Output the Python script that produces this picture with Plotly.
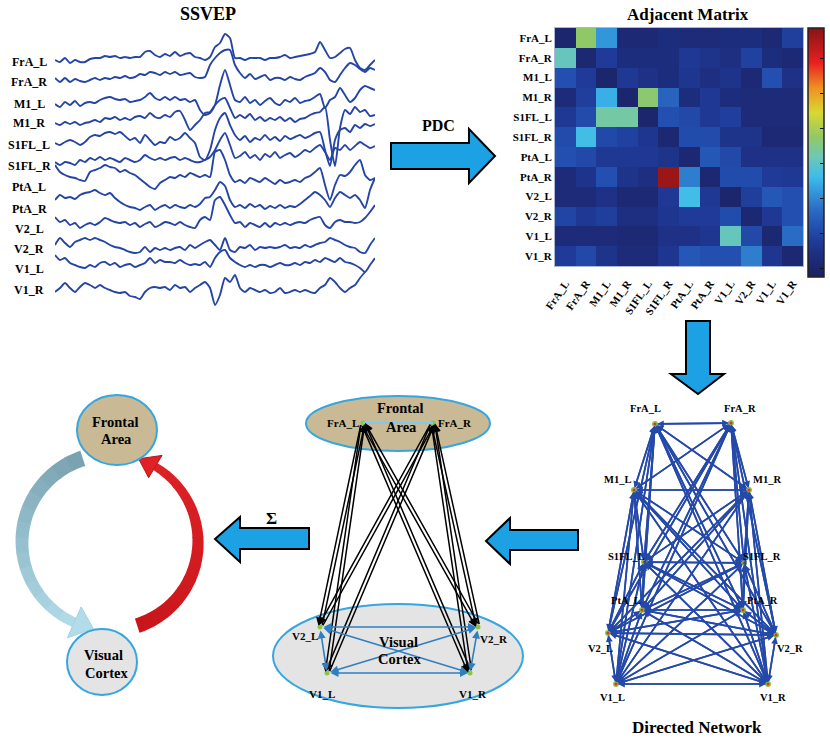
import numpy as np
import plotly.graph_objects as go

# ---------------------------------------------------------------- data
channels = ["FrA_L", "FrA_R", "M1_L", "M1_R", "S1FL_L", "S1FL_R",
            "PtA_L", "PtA_R", "V2_L", "V2_R", "V1_L", "V1_R"]
matrix_cols = ["FrA_L", "FrA_R", "M1_L", "M1_R", "S1FL_L", "S1FL_R",
               "PtA_L", "PtA_R", "V1_L", "V2_R", "V1_L", "V1_R"]

# SSVEP epochs, one list per channel (amplitude, 65 samples)
eeg_fra_l = [0, -2, 2, -3, 0, -2, -2, 1, 2, 2, 4, 3, 4, 2, 3, 2, 3, 3, 8, 9,
             5, 3, 6, 4, 8, 4, 6, 7, 3, 2, 0, 3, 13, 17, 26, 22, 2, 2, 0, 2,
             2, 2, 0, 2, 2, 3, 5, 2, 3, 4, 5, 6, 8, 18, 10, 2, 3, 7, 11, 12,
             0, -8, -10, -5, 0]
eeg_fra_r = [0, -4, 0, -4, -1, -3, -4, -2, 0, -2, 0, -1, 1, 0, 2, 0, 1, 4, 3, 6,
             5, 3, 6, 4, 6, 3, 4, 5, 1, 0, 1, 13, 20, 25, 28, 28, 13, 5, 0, 4,
             -1, 1, 3, -2, 0, 0, -2, 1, -1, -2, 1, 3, 5, 10, 6, -2, -4, 3, 10, 15,
             13, 9, 6, 10, 8]
eeg_m1_l = [0, -3, 2, -1, 3, -2, 1, 2, 1, 4, 6, 7, 5, 4, 5, 2, 3, 4, 7, 11,
            6, 4, 7, 4, 7, 4, 5, 2, 4, -6, -11, -9, -1, 19, 34, 19, 4, 2, 7, 1,
            4, -1, 3, 6, 1, -1, 4, 2, 6, 1, 3, 4, 7, 10, -4, 4, 7, 16, 9, 2,
            6, 14, 18, 16, 14]
eeg_m1_r = [0, -2, 1, -1, 1, -2, 0, 1, 3, 1, 5, 4, 6, 3, 5, 3, 6, 7, 5, 10,
            6, 5, 8, 6, 11, 12, 3, -7, -2, 3, 10, 11, 18, 23, 25, 15, 5, 8, 5, 9,
            3, 6, 2, 5, 3, 6, 2, 5, 1, 4, 5, 8, 10, 11, 16, -17, -43, -5, 13, 9,
            16, 11, 13, 7, 8]
eeg_s1fl_l = [0, -2, 1, 3, 1, -2, 1, 6, 8, 7, 10, 11, 9, 11, 7, 3, 5, 0, 8, 3,
              -2, 1, 0, 6, 3, 5, 10, 5, 0, -14, -17, -7, 13, 25, 30, 18, 8, 3, 7, 1,
              5, 3, 8, 3, 6, 2, 7, 4, 6, 8, 5, 7, 10, 11, -7, -23, 3, 13, 15, 11,
              18, 15, 19, 17, 19]
eeg_s1fl_r = [0, -3, 0, -1, -3, 2, 0, 4, 2, 5, 2, 4, 2, 0, 4, 2, 0, 2, 7, 4,
              2, 4, 2, 4, 5, 2, 4, 2, 0, 0, 2, 5, 12, 22, 29, 17, 4, 6, 10, 4,
              7, 2, 8, 5, 10, 4, 7, 9, 5, 8, 12, 10, 14, 17, 10, 2, 14, 12, 17, 12,
              16, 20, 17, 14, 16]
eeg_pta_l = [17, 10, 7, 5, 4, 2, 1, 10, 12, 14, 17, 15, 14, 10, 12, 9, 7, 3, -1, -5,
             -7, -1, 2, 5, 4, 7, 5, 9, 7, 5, 7, 5, 30, 32, 22, 7, 0, 2, -1, 4,
             2, 0, 4, 1, -2, 2, -1, 0, 2, 0, 4, 6, 10, 14, -3, -18, -3, 7, 6, 10,
             17, 22, 7, 2, 4]
eeg_pta_r = [0, 5, 2, 3, 1, 5, 7, 8, 10, 7, 5, 7, 2, -2, -5, -7, -8, -10, -7, -5,
             -10, -7, -5, -8, -5, -7, -8, -5, -7, -4, 2, 3, 10, 18, 14, 0, -7, -5, -8, -4,
             -7, -5, -9, -6, -8, -5, -8, -6, -7, -4, 0, 4, 8, 5, 0, -7, 2, 8, 5, 2,
             5, 0, -8, 10, 22]
eeg_v2_l = [3, -2, 0, -5, -3, -8, -5, -3, -5, -2, 2, 0, -2, -3, -2, -5, -3, -7, -4, -2,
            -7, -5, -2, -3, -5, -2, -5, -7, -8, 0, 3, 0, 20, 23, 15, 5, -3, -2, -7, -3,
            -5, -7, -3, -7, -3, -5, -3, -5, -3, -2, -3, 0, 2, 3, -5, -8, -2, 0, -2, -2,
            -3, -2, 2, 8, 15]
eeg_v2_r = [-2, 5, 0, -4, 1, 3, 5, 3, 5, 3, 1, -2, -4, -5, -7, -9, -10, -9, -4, -9,
            -5, -7, -5, -7, -5, -4, -7, -2, -5, -2, 1, 3, -2, -7, 5, -7, -9, -4, -5, -2,
            -7, -4, -5, -4, -5, -4, -2, -5, -4, -5, -2, -4, -2, 0, 1, 5, 3, 1, -2, -4,
            -5, -9, -10, -2, 5]
eeg_v1_l = [10, 5, 7, 2, 0, -2, -3, 0, -2, 2, 3, 0, 2, -2, 0, 1, -2, 0, 2, 7,
            2, 5, 3, 3, 2, 5, 2, 0, 1, 0, 3, -2, 7, 13, 15, 7, 3, 0, -2, 0,
            -2, 0, 0, -2, 0, 2, 0, 0, 2, 0, 3, 2, 5, 3, 7, 5, 3, 7, 3, 2,
            0, -3, -7, 0, 7]
eeg_v1_r = [-2, 2, 7, 2, -2, 3, 7, 5, 2, 5, 2, 0, -2, -3, -2, -6, -7, -9, -2, 2,
            3, 2, 3, 0, 5, 2, 3, -2, 2, 5, 8, 2, -15, -5, 12, 8, 15, 2, -2, 2,
            0, -2, 0, -3, -2, 2, -3, -2, 0, -2, 0, -2, -3, 2, 5, 12, 8, 2, -2, 2,
            5, 12, 18]

eeg_signals = [eeg_fra_l, eeg_fra_r, eeg_m1_l, eeg_m1_r, eeg_s1fl_l, eeg_s1fl_r,
               eeg_pta_l, eeg_pta_r, eeg_v2_l, eeg_v2_r, eeg_v1_l, eeg_v1_r]

# PDC adjacency matrix (rows: sink, columns: source), normalised strength
adj_matrix = [
    [0.04, 0.56, 0.34, 0.06, 0.06, 0.08, 0.07, 0.07, 0.08, 0.08, 0.06, 0.15],
    [0.47, 0.05, 0.14, 0.08, 0.08, 0.08, 0.13, 0.11, 0.09, 0.16, 0.08, 0.06],
    [0.20, 0.14, 0.04, 0.13, 0.10, 0.08, 0.12, 0.09, 0.11, 0.06, 0.20, 0.10],
    [0.07, 0.15, 0.38, 0.04, 0.55, 0.25, 0.08, 0.13, 0.08, 0.07, 0.07, 0.07],
    [0.13, 0.19, 0.50, 0.50, 0.04, 0.20, 0.18, 0.13, 0.15, 0.07, 0.07, 0.07],
    [0.19, 0.41, 0.18, 0.16, 0.12, 0.05, 0.19, 0.19, 0.11, 0.11, 0.06, 0.06],
    [0.20, 0.18, 0.13, 0.13, 0.13, 0.11, 0.05, 0.22, 0.18, 0.10, 0.10, 0.10],
    [0.07, 0.11, 0.20, 0.11, 0.09, 0.97, 0.30, 0.05, 0.19, 0.19, 0.14, 0.13],
    [0.07, 0.07, 0.10, 0.06, 0.06, 0.13, 0.41, 0.13, 0.04, 0.15, 0.22, 0.20],
    [0.17, 0.13, 0.15, 0.09, 0.09, 0.12, 0.14, 0.14, 0.19, 0.05, 0.13, 0.20],
    [0.07, 0.07, 0.07, 0.06, 0.06, 0.10, 0.10, 0.12, 0.47, 0.18, 0.05, 0.27],
    [0.14, 0.18, 0.11, 0.07, 0.07, 0.12, 0.22, 0.20, 0.20, 0.30, 0.12, 0.05],
]

# regions of the summarised network
frontal_nodes = ["FrA_L", "FrA_R"]
visual_nodes = ["V2_L", "V2_R", "V1_L", "V1_R"]
visual_links = [("V2_L", "V2_R"), ("V1_L", "V1_R"), ("V2_L", "V1_R"),
                ("V1_L", "V2_R"), ("V2_L", "V1_L"), ("V2_R", "V1_R")]

# ---------------------------------------------------------------- layout constants
W, H = 830, 738
SERIF = "Liberation Serif"
EEG_BLUE = "#2545a5"
NET_BLUE = "#2449a8"
ARROW_FILL = "#1ca2e4"
TAN = "#c9b995"
GREYFILL = "#e4e4e4"
RIM = "#35a6df"

row_y = [60, 78, 104, 123, 143, 162, 182, 200, 220, 243, 265, 290]
label_y = [62, 82, 104, 123, 145, 166, 187, 209, 229, 249, 269, 290]

dn_pos = {"FrA_L": (655, 424), "FrA_R": (731, 423), "M1_L": (634, 490),
          "M1_R": (749, 490), "S1FL_L": (644, 562), "S1FL_R": (744, 563),
          "PtA_L": (642, 610), "PtA_R": (743, 610), "V2_L": (608, 633),
          "V2_R": (776, 635), "V1_L": (616, 684), "V1_R": (768, 684)}
dn_lab = {"FrA_L": (645, 408), "FrA_R": (740, 408), "M1_L": (617, 479),
          "M1_R": (767, 479), "S1FL_L": (626, 556), "S1FL_R": (762, 556),
          "PtA_L": (626, 600), "PtA_R": (762, 600), "V2_L": (600, 648),
          "V2_R": (790, 648), "V1_L": (612, 697), "V1_R": (773, 697)}
mid_pos = {"FrA_L": (363, 423), "FrA_R": (433, 423), "V2_L": (320, 627),
           "V2_R": (478, 627), "V1_L": (327, 673), "V1_R": (470, 673)}
mid_lab = {"FrA_L": (343, 423), "FrA_R": (455, 423), "V2_L": (305, 636),
           "V2_R": (494, 639), "V1_L": (322, 694), "V1_R": (473, 694)}

fig = go.Figure()

# ---------------------------------------------------------------- SSVEP traces
t = np.arange(len(eeg_fra_l))
for i, sig in enumerate(eeg_signals):
    fig.add_trace(go.Scatter(
        x=t, y=row_y[i] - np.asarray(sig, dtype=float), xaxis="x2", yaxis="y",
        mode="lines", line=dict(color=EEG_BLUE, width=1.9, shape="spline", smoothing=0.6),
        hoverinfo="skip", showlegend=False))

# ---------------------------------------------------------------- adjacency heatmap
jet_soft = [[0.00, "#1b1f5e"], [0.07, "#1d2b78"], [0.14, "#1f3a98"], [0.20, "#2350b0"],
            [0.27, "#2a6cc4"], [0.33, "#3290d8"], [0.40, "#3cbbeb"], [0.48, "#6cc8b8"],
            [0.56, "#90c868"], [0.66, "#d8d830"], [0.76, "#f09020"], [0.86, "#e82020"],
            [1.00, "#861414"]]
fig.add_trace(go.Heatmap(
    z=adj_matrix, x=list(range(12)), y=list(range(12)), xaxis="x3", yaxis="y3",
    colorscale=jet_soft, zmin=0, zmax=1, hoverinfo="skip",
    colorbar=dict(x=808 / W, xanchor="left", xref="paper", y=1 - 28 / H, yanchor="top",
                  len=249 / H, lenmode="fraction", thickness=16, thicknessmode="pixels",
                  outlinewidth=1.5, outlinecolor="#222", ticks="inside", ticklen=4,
                  tickcolor="#111", showticklabels=False, xpad=0, ypad=0,
                  tickvals=[0.036, 0.176, 0.317, 0.457, 0.598, 0.738, 0.879])))

# ---------------------------------------------------------------- node markers
fig.add_trace(go.Scatter(
    x=[dn_pos[c][0] for c in channels], y=[dn_pos[c][1] for c in channels],
    mode="markers", marker=dict(size=6, color="#8cc63f"), hoverinfo="skip", showlegend=False))
fig.add_trace(go.Scatter(
    x=[dn_pos[c][0] for c in channels], y=[dn_pos[c][1] for c in channels],
    mode="markers", marker=dict(size=3, color="#e0302a"), hoverinfo="skip", showlegend=False))
fig.add_trace(go.Scatter(
    x=[p[0] for p in mid_pos.values()], y=[p[1] for p in mid_pos.values()],
    mode="markers", marker=dict(size=5, color="#8cc63f"), hoverinfo="skip", showlegend=False))

# ---------------------------------------------------------------- shapes
shapes = []


def poly(pts):
    return "M " + " L ".join(f"{x:.2f},{y:.2f}" for x, y in pts) + " Z"


def block_arrow(pts):
    shapes.append(dict(type="path", xref="x", yref="y", path=poly(pts),
                       fillcolor=ARROW_FILL, line=dict(color="black", width=2)))


block_arrow([(391, 143), (469, 143), (469, 129), (495, 156), (469, 183), (469, 169), (391, 169)])
block_arrow([(686, 321), (710, 321), (710, 374), (724, 374), (698, 394), (671, 374), (686, 374)])
block_arrow([(309, 528), (240, 528), (240, 517), (215, 539), (240, 562), (240, 549), (309, 549)])
block_arrow([(578, 530), (510, 530), (510, 518), (486, 541), (510, 564), (510, 550), (578, 550)])

# curved loop arrows between the two regions
CX, CY, RM = 110, 542, 88


def arc_pt(theta_deg, r):
    th = np.radians(theta_deg)
    return CX + r * np.cos(th), CY - r * np.sin(th)


def mix(c0, c1, f):
    a = [int(c0[i:i + 2], 16) for i in (1, 3, 5)]
    b = [int(c1[i:i + 2], 16) for i in (1, 3, 5)]
    return "#" + "".join(f"{int(round(a[k] + (b[k] - a[k]) * f)):02x}" for k in range(3))


def loop_arrow(th0, th1, w0, w1, c0, c1, head_w, head_len, edge):
    nseg = 14
    ths = np.linspace(th0, th1, nseg + 1)
    for k in range(nseg):
        a0, a1 = ths[k], ths[k + 1] + (0.6 if th1 > th0 else -0.6) * (k < nseg - 1)
        sub = np.linspace(a0, a1, 8)
        ws = w0 + (w1 - w0) * (sub - th0) / (th1 - th0)
        outer = [arc_pt(a, RM + w / 2) for a, w in zip(sub, ws)]
        inner = [arc_pt(a, RM - w / 2) for a, w in zip(sub[::-1], ws[::-1])]
        col = mix(c0, c1, (k + 0.5) / nseg)
        shapes.append(dict(type="path", xref="x", yref="y", path=poly(outer + inner),
                           fillcolor=col, line=dict(width=0)))
    direction = 1 if th1 > th0 else -1
    tip = arc_pt(th1 + direction * head_len, RM)
    shapes.append(dict(type="path", xref="x", yref="y",
                       path=poly([arc_pt(th1, RM + head_w), tip, arc_pt(th1, RM - head_w)]),
                       fillcolor=c1, line=dict(color=edge, width=1)))


loop_arrow(108, 246, 16, 10, "#78a0ae", "#b2dcea", 17, 13, "#a6d3e3")
loop_arrow(-72, 59, 15, 8, "#c8161b", "#de2226", 13, 12, "#b81418")

# region ellipses
shapes += [
    dict(type="circle", xref="x", yref="y", x0=77, x1=157, y0=395, y1=465,
         fillcolor=TAN, line=dict(color=RIM, width=2)),
    dict(type="circle", xref="x", yref="y", x0=67, x1=137, y0=629, y1=695,
         fillcolor=GREYFILL, line=dict(color=RIM, width=2)),
    dict(type="circle", xref="x", yref="y", x0=306, x1=490, y0=396, y1=451,
         fillcolor=TAN, line=dict(color=RIM, width=2), layer="below"),
    dict(type="circle", xref="x", yref="y", x0=273, x1=523, y0=604, y1=708,
         fillcolor=GREYFILL, line=dict(color=RIM, width=2), layer="below"),
]
fa, fb = mid_pos["FrA_L"], mid_pos["FrA_R"]
shapes.append(dict(type="line", xref="x", yref="y", x0=fa[0], y0=fa[1], x1=fb[0], y1=fb[1],
                   line=dict(color="#7ccaee", width=2)))

# ---------------------------------------------------------------- annotations
ann = []


def label(x, y, text, size, bold=True, color="black"):
    ann.append(dict(x=x, y=y, xref="x", yref="y", text=f"<b>{text}</b>" if bold else text,
                    showarrow=False, font=dict(family=SERIF, size=size, color=color),
                    xanchor="center", yanchor="middle"))


def link(src, dst, color, width, size=1.0, both=False, standoff=2):
    ann.append(dict(x=dst[0], y=dst[1], ax=src[0], ay=src[1], xref="x", yref="y",
                    axref="x", ayref="y", text="", showarrow=True, arrowhead=2,
                    arrowsize=size, arrowwidth=width, arrowcolor=color, standoff=standoff,
                    startstandoff=standoff, arrowside="end+start" if both else "end"))


# titles
label(208, 14, "SSVEP", 18)
label(688, 14, "Adjacent Matrix", 17)
label(697, 727, "Directed Network", 17)
label(438, 125, "PDC", 16)
label(271, 518, "Σ", 17)

# channel names beside the SSVEP traces
for name, y in zip(channels, label_y):
    label(29, y, name, 12)

# directed network: every ordered pair of channels
for i, a in enumerate(channels):
    for j, b in enumerate(channels):
        if i != j:
            link(dn_pos[a], dn_pos[b], NET_BLUE, 1.7, size=0.8, standoff=2)
for c in channels:
    label(dn_lab[c][0], dn_lab[c][1], c, 10.5)

# summarised network: frontal <-> visual, drawn as two offset directed links
for f in frontal_nodes:
    for v in visual_nodes:
        p, q = np.array(mid_pos[f], float), np.array(mid_pos[v], float)
        d = q - p
        n = np.array([-d[1], d[0]]) / np.hypot(*d) * 1.8
        link(tuple(p + n), tuple(q + n), "black", 1.5, size=1.1, standoff=1)
        link(tuple(q - n), tuple(p - n), "black", 1.5, size=1.1, standoff=1)
for a, b in visual_links:
    link(mid_pos[a], mid_pos[b], "#2f7fc1", 1.6, size=1.0, both=True, standoff=2)
for c, (x, y) in mid_lab.items():
    label(x, y, c, 11)
label(400, 408, "Frontal", 14.5)
label(401, 427, "Area", 14.5)
label(398, 642, "Visual", 14.5)
label(399, 659, "Cortex", 14.5)

# loop diagram
label(115, 422, "Frontal", 14.5)
label(116, 439, "Area", 14.5)
label(103, 655, "Visual", 14.5)
label(106, 673, "Cortex", 14.5)

# ---------------------------------------------------------------- axes
tick_font = dict(family=SERIF, size=11, color="black")
fig.update_layout(
    template="none", width=W, height=H, margin=dict(l=0, r=0, t=0, b=0, pad=0),
    paper_bgcolor="white", plot_bgcolor="rgba(0,0,0,0)", showlegend=False,
    xaxis=dict(domain=[0, 1], range=[0, W], visible=False, fixedrange=True),
    yaxis=dict(domain=[0, 1], range=[H, 0], visible=False, fixedrange=True),
    xaxis2=dict(domain=[55 / W, 375 / W], range=[0, len(eeg_fra_l) - 1], visible=False,
                anchor="y"),
    xaxis3=dict(domain=[555 / W, 803 / W], range=[-0.5, 11.5], anchor="y3",
                tickmode="array", tickvals=list(range(12)),
                ticktext=[f"<b>{c}</b>" for c in matrix_cols], tickangle=-55,
                tickfont=tick_font, ticks="", showgrid=False, zeroline=False,
                showline=True, mirror=True, linecolor="#a9b9d4", linewidth=1,
                ticklabelstandoff=6, automargin=False),
    yaxis3=dict(domain=[1 - 266 / H, 1 - 28 / H], range=[11.5, -0.5], anchor="x3",
                tickmode="array", tickvals=list(range(12)),
                ticktext=[f"<b>{c}</b>" for c in channels], tickfont=tick_font,
                ticks="", showgrid=False, zeroline=False, showline=True, mirror=True,
                linecolor="#a9b9d4", linewidth=1, automargin=False),
    shapes=shapes, annotations=ann,
)

fig.write_html("out.html")
